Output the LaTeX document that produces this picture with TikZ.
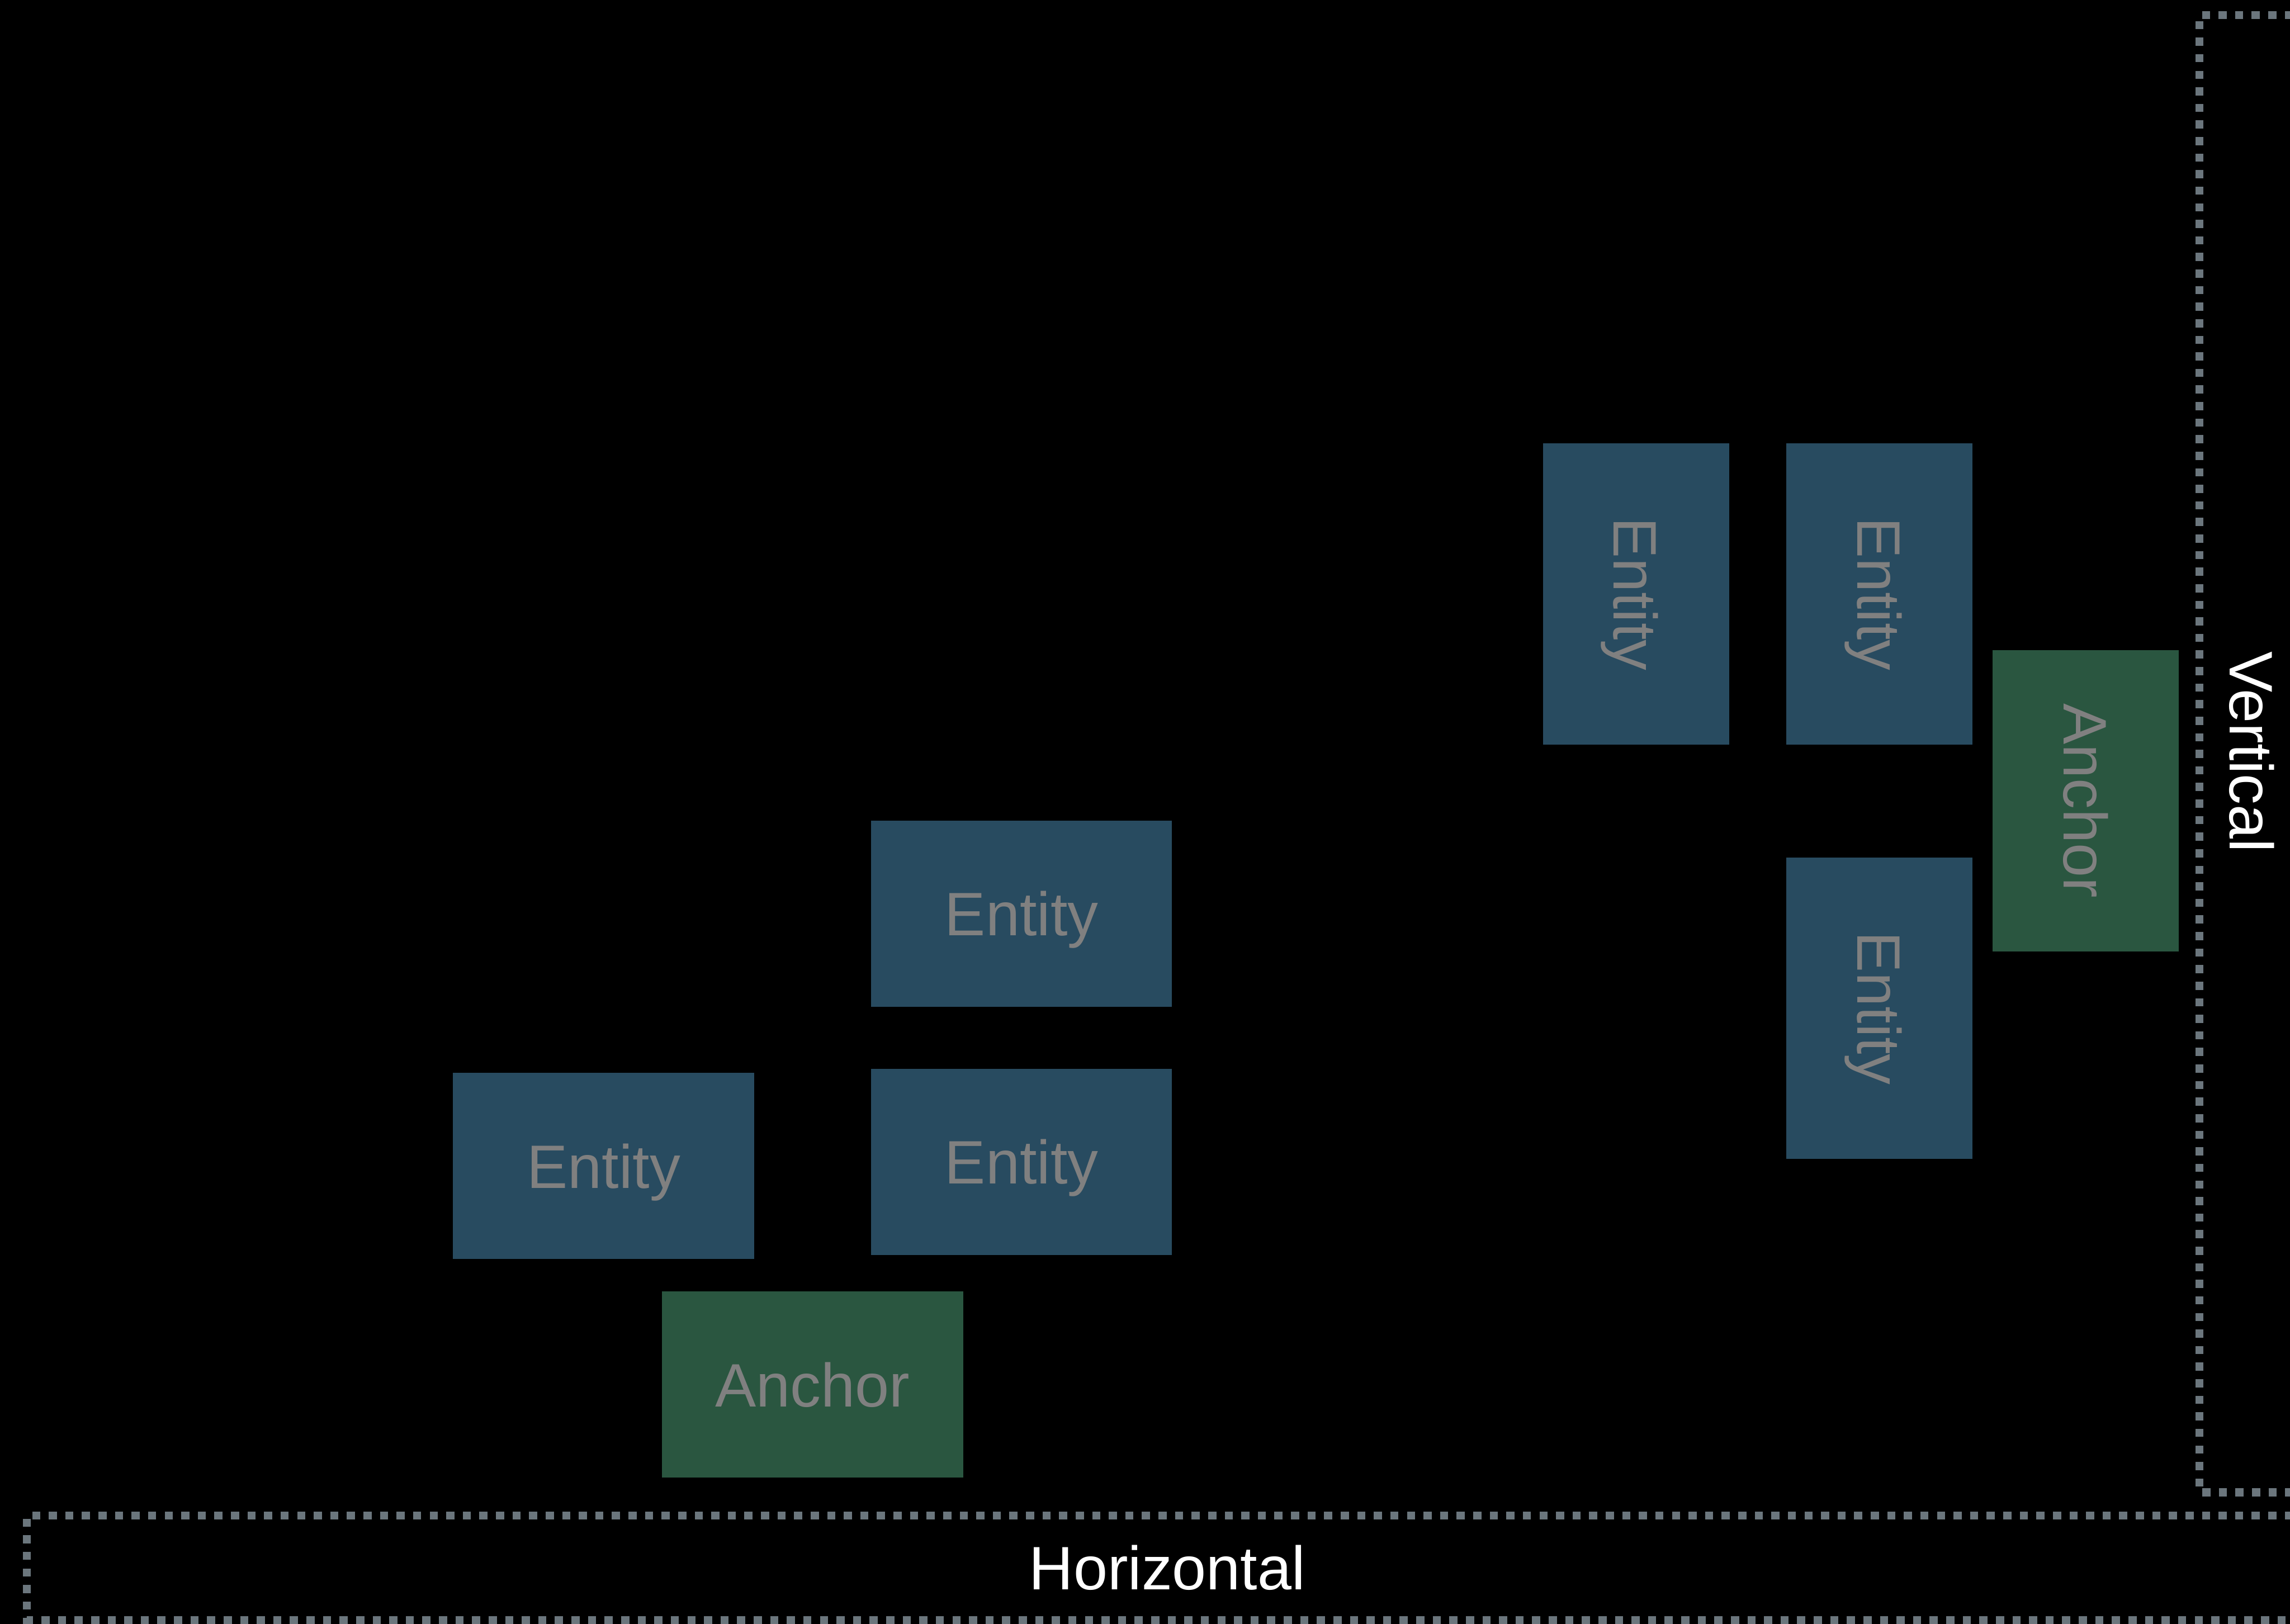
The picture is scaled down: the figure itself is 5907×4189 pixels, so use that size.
\documentclass[tikz,border=0pt]{standalone}
\usepackage{fontspec}
\setmainfont{Liberation Sans}

\definecolor{entityblue}{HTML}{284B60}
\definecolor{anchorgreen}{HTML}{2A5640}
\definecolor{labelgray}{HTML}{808080}
\definecolor{framegray}{HTML}{6B767D}

\begin{document}
\begin{tikzpicture}[x=0.01cm, y=-0.01cm,
  labelfont/.style={font=\fontsize{45pt}{54pt}\selectfont},
  box/.style={rectangle, draw=none, inner sep=0pt, outer sep=0pt,
    minimum width=7.76cm, minimum height=4.80cm,
    labelfont, text=labelgray, text height=32.2pt, text depth=0pt},
  entity/.style={box, fill=entityblue},
  anchorbox/.style={box, fill=anchorgreen},
  upright/.style={rotate=-90},
  frame/.style={draw=framegray, line width=0.21cm,
    dash pattern=on 0.21cm off 0.217cm},
  axislabel/.style={labelfont, text=white, anchor=base, inner sep=0pt}]

  % canvas
  \fill[black] (0,0) rectangle (5907,4189);
  \useasboundingbox (0,0) rectangle (5907,4189);
  \clip (0,0) rectangle (5907,4189);

  % dotted frames of the two axes (open on the right)
  \coordinate (vtl) at (6000,39);
  \coordinate (vbl) at (6000,3849.5);
  \draw[frame] (vtl) -- (5673.5,39) -- (5673.5,3849.5) -- (vbl);
  \coordinate (htl) at (6000,3909.5);
  \coordinate (hbl) at (6000,4179.5);
  \draw[frame] (htl) -- (69.5,3909.5) -- (69.5,4179.5) -- (hbl);

  % vertical stack
  \node[entity, upright] (ea) at (4220,1532) {Entity};
  \node[entity, upright] (eb) at (4848,1532) {Entity};
  \node[anchorbox, upright] (av) at (5380,2066) {Anchor};
  \node[entity, upright] (ec) at (4848,2601) {Entity};

  % horizontal stack
  \node[entity] (ed) at (2635,2357) {Entity};
  \node[entity] (ee) at (2635,2997) {Entity};
  \node[entity] (ef) at (1557,3008) {Entity};
  \node[anchorbox] (ah) at (2096,3572) {Anchor};

  % axis labels
  \node[axislabel, upright] (vlabel) at (5752,1940) {Vertical};
  \node[axislabel] (hlabel) at (3011,4101) {Horizontal};
\end{tikzpicture}
\end{document}
